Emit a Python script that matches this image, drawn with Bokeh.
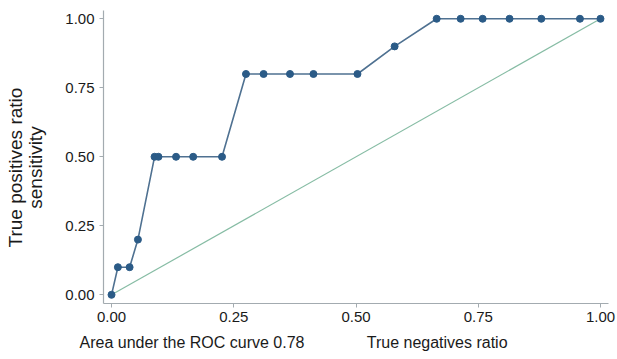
from bokeh.plotting import figure
from bokeh.models import Title, FixedTicker, NumeralTickFormatter, Range1d, LinearAxis
from bokeh.embed import file_html
from bokeh.resources import INLINE

# ROC curve points (1 - specificity, sensitivity)
fpr = [0.0, 0.013, 0.037, 0.054, 0.088, 0.096, 0.132, 0.167, 0.226,
       0.275, 0.311, 0.365, 0.413, 0.503, 0.579,
       0.665, 0.714, 0.759, 0.814, 0.879, 0.958, 1.0]
tpr = [0.0, 0.1, 0.1, 0.2, 0.5, 0.5, 0.5, 0.5, 0.5,
       0.8, 0.8, 0.8, 0.8, 0.8, 0.9,
       1.0, 1.0, 1.0, 1.0, 1.0, 1.0, 1.0]
ref_x = [0.0, 1.0]
ref_y = [0.0, 1.0]
ticks = [0.0, 0.25, 0.5, 0.75, 1.0]
auc_text = "Area under the ROC curve 0.78"
x_title = "True negatives ratio"
y_title_1 = "True positives ratio"
y_title_2 = "sensitivity"

FONT = "Liberation Sans"
NB = "\u00a0"

p = figure(width=617, height=359, output_backend="svg", toolbar_location=None,
           x_range=Range1d(-0.0164, 1.0164), y_range=Range1d(-0.0315, 1.03),
           min_border_left=103, min_border_right=9, min_border_top=10,
           min_border_bottom=56)
p.outline_line_color = None
p.xgrid.visible = False
p.ygrid.visible = False
p.background_fill_color = "white"

for ax in (p.xaxis[0], p.yaxis[0]):
    ax.ticker = FixedTicker(ticks=ticks)
    ax.formatter = NumeralTickFormatter(format="0.00")
    ax.axis_line_color = "#a3abb0"
    ax.axis_line_width = 1.2
    ax.major_tick_line_color = "#a3abb0"
    ax.major_tick_out = 4
    ax.major_tick_in = 0
    ax.minor_tick_line_color = None
    ax.major_label_text_font = FONT
    ax.major_label_text_font_size = "15px"
    ax.major_label_text_color = "#1a1a1a"
p.xaxis[0].major_label_standoff = 4
p.yaxis[0].major_label_standoff = 5

label_style = dict(axis_label_text_font=FONT, axis_label_text_font_size="19px",
                   axis_label_text_font_style="normal", axis_label_text_color="#1a1a1a")

ya = p.yaxis[0]
ya.axis_label = y_title_2 + NB * 4
ya.axis_label_standoff = 16
for k, v in label_style.items():
    setattr(ya, k, v)

ya2 = LinearAxis(ticker=FixedTicker(ticks=[]), axis_line_color=None,
                 major_tick_line_color=None, minor_tick_line_color=None,
                 major_label_text_font_size="0px",
                 axis_label=y_title_1 + NB * 4, axis_label_standoff=-3, **label_style)
p.add_layout(ya2, "left")

p.line(ref_x, ref_y, line_color="#86bca4", line_width=1.2)
p.line(fpr, tpr, line_color="#4f7191", line_width=1.6)
p.scatter(fpr, tpr, size=7, fill_color="#2b5b87", line_color="#2b5b87")

bottom_text = auc_text + NB * 14 + x_title
p.add_layout(Title(text=bottom_text, align="left", offset=-24, standoff=15,
                   text_font=FONT, text_font_size="16px", text_font_style="normal",
                   text_color="#1a1a1a"), "below")

open("out.html", "w").write(file_html(p, INLINE))
